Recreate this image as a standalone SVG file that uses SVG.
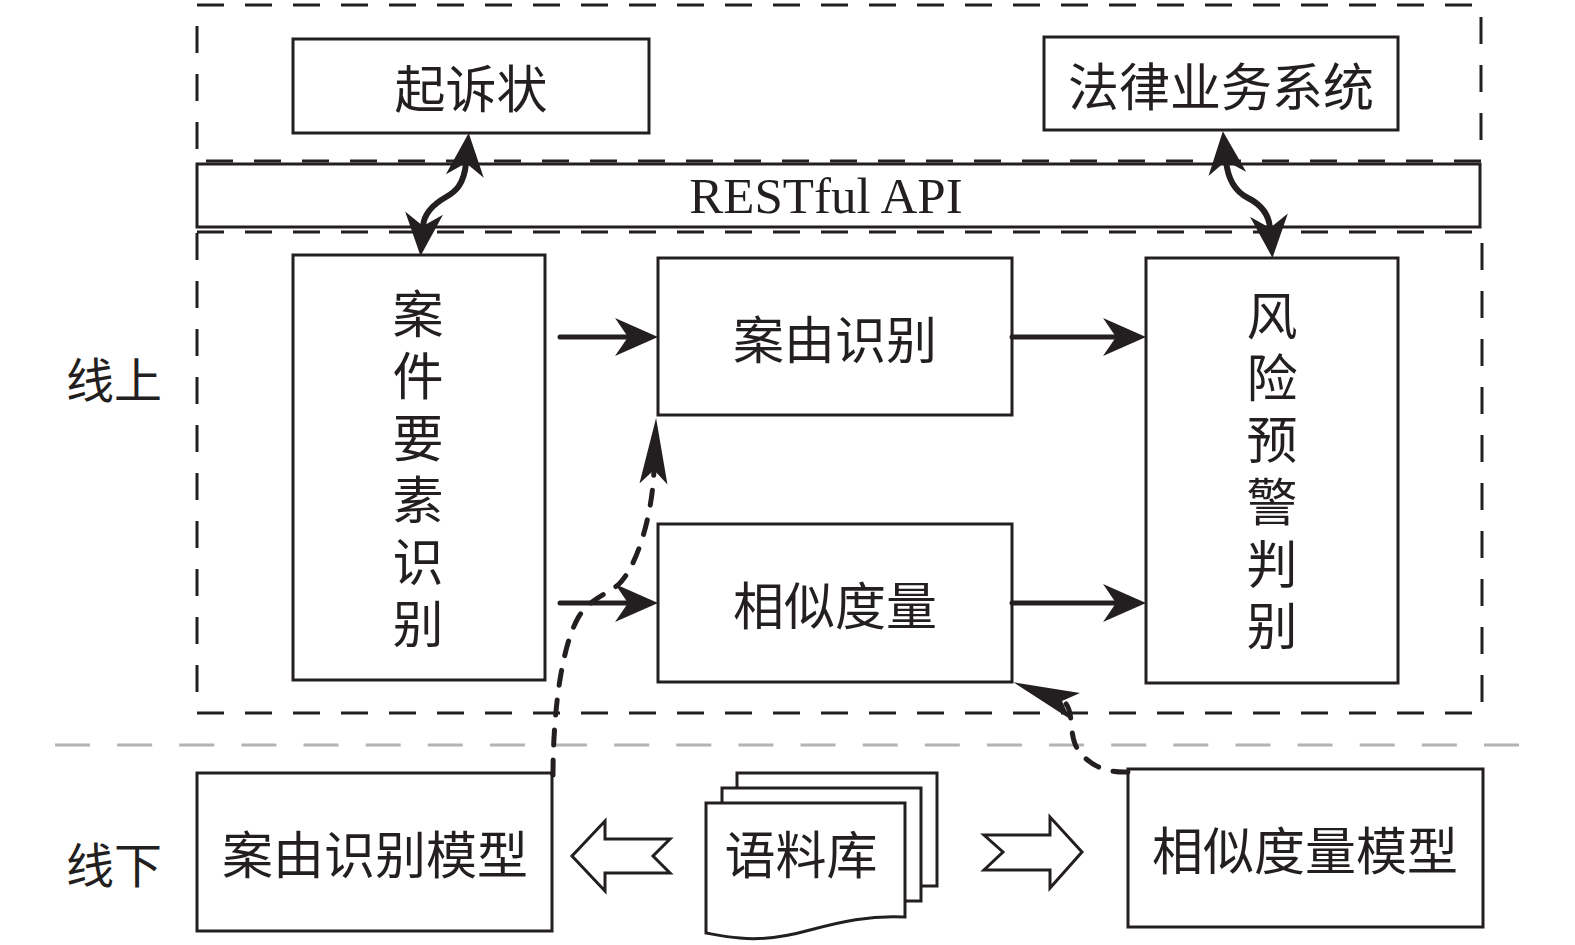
<svg xmlns="http://www.w3.org/2000/svg" width="1575" height="945" viewBox="0 0 1575 945">
<style>
.box{fill:#fff;stroke:#231f20;stroke-width:3}
.dbox{fill:none;stroke:#231f20;stroke-width:3;stroke-dasharray:27 21}
.gray{fill:none;stroke:#b3b3b3;stroke-width:3;stroke-dasharray:35 27.13}
.cjk{font-family:"Noto Sans CJK SC","Noto Sans CJK JP",sans-serif;fill:#231f20;text-anchor:middle;dominant-baseline:central}
.vert{writing-mode:vertical-rl;letter-spacing:11px}
.lat{font-family:"Liberation Serif","Times New Roman",serif;fill:#231f20;text-anchor:middle}
.arr{fill:none;stroke:#231f20;stroke-width:5;stroke-linecap:round;marker-end:url(#ah)}
.wav{fill:none;stroke:#231f20;stroke-width:6;marker-start:url(#ah);marker-end:url(#ah)}
.dash{fill:none;stroke:#231f20;stroke-width:5;stroke-linecap:round;stroke-dasharray:15 15;marker-end:url(#ahd)}
.hollow{fill:#fff;stroke:#231f20;stroke-width:3;stroke-linejoin:miter}
</style>
<defs>
<marker id="ah" markerUnits="userSpaceOnUse" viewBox="0 0 43 38" markerWidth="43" markerHeight="38" refX="13" refY="19" orient="auto-start-reverse">
<path d="M0,0 L43,19 L0,38 L13,19 Z" fill="#231f20"/>
</marker>
<marker id="ahd" markerUnits="userSpaceOnUse" viewBox="0 0 66 30" markerWidth="66" markerHeight="30" refX="14" refY="15" orient="auto">
<path d="M0,1 L66,15 L0,29 L14,15 Z" fill="#231f20"/>
</marker>
</defs>
<rect width="1575" height="945" fill="#fff"/>

<g id="online-frame">
<rect class="dbox" x="197" y="5" width="1284" height="156"/>
<rect class="dbox" x="197" y="232" width="1285" height="481"/>
<line class="gray" x1="55" y1="745" x2="1519" y2="745"/>
<text class="cjk" x="114" y="377" font-size="48">线上</text>
<text class="cjk" x="114" y="862" font-size="48">线下</text>
</g>

<g id="restful">
<rect class="box" x="197" y="164" width="1283" height="63"/>
<text class="lat" x="826" y="213" font-size="51">RESTful API</text>
</g>

<g id="qisuzhuang">
<rect class="box" x="293" y="39" width="356" height="94"/>
<text class="cjk" x="471" y="86" font-size="51">起诉状</text>
</g>

<g id="falv">
<rect class="box" x="1044" y="37" width="354" height="93"/>
<text class="cjk" x="1221" y="84" font-size="51">法律业务系统</text>
</g>

<g id="anjian">
<rect class="box" x="293" y="255" width="252" height="425"/>
<text class="cjk vert" x="418" y="474" font-size="51">案件要素识别</text>
</g>

<g id="anyou">
<rect class="box" x="658" y="258" width="354" height="157"/>
<text class="cjk" x="835" y="337" font-size="51">案由识别</text>
</g>

<g id="xiangsi">
<rect class="box" x="658" y="524" width="354" height="158"/>
<text class="cjk" x="835" y="603" font-size="51">相似度量</text>
</g>

<g id="fengxian">
<rect class="box" x="1146" y="258" width="252" height="425"/>
<text class="cjk vert" x="1272" y="476" font-size="51">风险预警判别</text>
</g>

<g id="anyou-model">
<rect class="box" x="197" y="773" width="355" height="158"/>
<text class="cjk" x="375" y="852" font-size="51">案由识别模型</text>
</g>

<g id="xiangsi-model">
<rect class="box" x="1128" y="769" width="355" height="158"/>
<text class="cjk" x="1305" y="848" font-size="51">相似度量模型</text>
</g>

<g id="corpus">
<rect class="box" x="737" y="773" width="200" height="113"/>
<rect class="box" x="722" y="788" width="199" height="113"/>
<path class="box" d="M706,803 H905 V917 C870,915 840,922 810,930 C785,937 760,940 740,938 C725,937 712,934 706,933 Z"/>
<text class="cjk" x="801" y="852" font-size="51">语料库</text>
</g>

<g id="connectors">
<path class="arr" d="M560,337 H628"/>
<path class="arr" d="M1012,337 H1116"/>
<path class="arr" d="M560,603 H628"/>
<path class="arr" d="M1012,603 H1116"/>
<path class="wav" d="M466,163 C464,185 455,192 446,197 C432,205 424,214 423,226"/>
<path class="wav" d="M1226,161 C1228,180 1236,192 1248,198 C1262,205 1269,216 1270,228"/>
<path class="dash" d="M553,775 C553,720 560,650 578,618 C588,600 605,595 618,585 C635,570 652,520 654,470"/>
<path class="dash" d="M1128,772 C1105,773 1088,765 1077,748 C1068,733 1075,706 1062,701"/>
<polygon class="hollow" points="572,856 605,821 605,839 670,839 653,856 670,873 605,873 605,891"/>
<polygon class="hollow" points="984,835 1050,835 1050,817 1082,852 1050,888 1050,870 984,870 1003,852"/>
</g>
</svg>
